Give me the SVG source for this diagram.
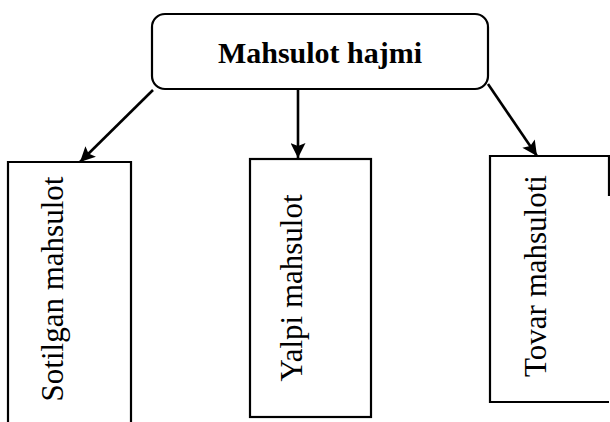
<svg xmlns="http://www.w3.org/2000/svg" width="610" height="422" viewBox="0 0 610 422">
  <defs>
    <marker id="arrow" viewBox="0 0 10 10" refX="10" refY="5" markerWidth="17" markerHeight="15" markerUnits="userSpaceOnUse" orient="auto">
      <path d="M0,0 L10,5 L0,10 L2,5 z" fill="#000"/>
    </marker>
    <style>
      .box { fill: #fff; stroke: #000; stroke-width: 2.2; }
      .edge { fill: none; stroke: #000; stroke-width: 2.6; marker-end: url(#arrow); }
      .title { font-family: "Liberation Serif", "Times New Roman", serif; font-weight: bold; font-size: 30px; fill: #000; }
      .label { font-family: "Liberation Serif", "Times New Roman", serif; font-size: 31px; fill: #000; }
    </style>
  </defs>
  <rect width="610" height="422" fill="#fff"/>

  <g id="connectors">
    <path class="edge" d="M153,90 L80,162"/>
    <path class="edge" d="M298,89 L298,158"/>
    <path class="edge" d="M488,84 L537,156"/>
  </g>

  <g id="node-root">
    <rect class="box" x="152" y="14" width="336" height="75" rx="13" ry="13"/>
    <text class="title" x="320" y="63" text-anchor="middle">Mahsulot hajmi</text>
  </g>

  <g id="node-sotilgan">
    <path class="box" d="M131,422 L131,162 L8,162 L8,422"/>
    <text class="label" transform="translate(63,289) rotate(-90)" text-anchor="middle">Sotilgan mahsulot</text>
  </g>

  <g id="node-yalpi">
    <rect class="box" x="250" y="159" width="121" height="258"/>
    <text class="label" transform="translate(302,288) rotate(-90)" text-anchor="middle">Yalpi mahsulot</text>
  </g>

  <g id="node-tovar">
    <path class="box" d="M609,196 L609,156 L490,156 L490,402 L609,402"/>
    <text class="label" transform="translate(546,276) rotate(-90)" text-anchor="middle">Tovar mahsuloti</text>
  </g>
</svg>
